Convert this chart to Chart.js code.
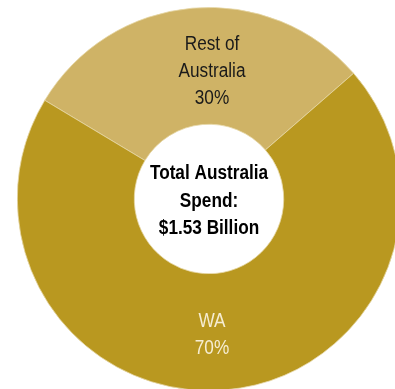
<!DOCTYPE html>
<html>
<head>
<meta charset="utf-8">
<script src="https://cdn.jsdelivr.net/npm/chart.js@4.4.0/dist/chart.umd.min.js"></script>
<style>
  html, body { margin: 0; padding: 0; background: #fff; overflow: hidden; width: 395px; height: 389px; }
  #spend { position: absolute; left: 17px; top: 7px; }
</style>
</head>
<body>
<canvas id="spend" width="384" height="384"></canvas>
<script>
// spend split
const regions = ['Rest of Australia', 'WA']
const regionLines = [['Rest of', 'Australia'], ['WA']]
const shares = [30, 70]
const sliceColors = ['#CFB366', '#B99820']
const labelColors = ['#1a1a1a', '#F6EDD2']
const centreLines = ['Total Australia', 'Spend:', '$1.53 Billion']

const FONT = '"Liberation Sans", Arial, sans-serif'

// no narrow face available, so squeeze the text a bit
const narrowText = (ctx, t, x, y) => {
    ctx.save()
    ctx.translate(x, y)
    ctx.scale(0.86, 1)
    ctx.fillText(t, 0, 0)
    ctx.restore()
}

// writes region name + % inside each slice
const sliceLabels = {
    id: 'sliceLabels',
    afterDatasetsDraw(chart) {
        const ctx = chart.ctx
        const meta = chart.getDatasetMeta(0)
        ctx.save()
        ctx.textAlign = 'center'
        ctx.textBaseline = 'middle'
        ctx.font = '20px ' + FONT
        meta.data.forEach((arc, i) => {
            const p = arc.getProps(['x', 'y', 'startAngle', 'endAngle', 'innerRadius', 'outerRadius'])
            const mid = (p.startAngle + p.endAngle) / 2
            const half = (p.innerRadius + p.outerRadius) / 2
            const dir = Math.sin(mid) < 0 ? -1 : 1
            const lines = regionLines[i].concat([shares[i] + '%'])
            const lh = 27
            const cy = p.y + dir * half + (dir < 0 ? 6 : 3)
            ctx.fillStyle = labelColors[i]
            lines.forEach((t, j) => {
                narrowText(ctx, t, p.x + 3, cy + (j - (lines.length - 1) / 2) * lh)
            })
        })

        // centre of the hole
        const a = meta.data[0]
        ctx.fillStyle = '#000'
        ctx.font = 'bold 20px ' + FONT
        centreLines.forEach((t, j) => {
            narrowText(ctx, t, a.x, a.y + 2 + (j - 1) * 27.5)
        })
        ctx.restore()
    }
}

new Chart(document.getElementById('spend'), {
    type: 'doughnut',
    data: {
        labels: regions,
        datasets: [{
            data: shares,
            backgroundColor: sliceColors,
            borderColor: '#E6D7A6',
            borderWidth: 0.8
        }]
    },
    options: {
        responsive: false,
        animation: false,
        rotation: -59,
        cutout: '39%',
        layout: { padding: 0 },
        plugins: {
            legend: { display: false },
            tooltip: { enabled: false }
        }
    },
    plugins: [sliceLabels]
})
</script>
</body>
</html>
